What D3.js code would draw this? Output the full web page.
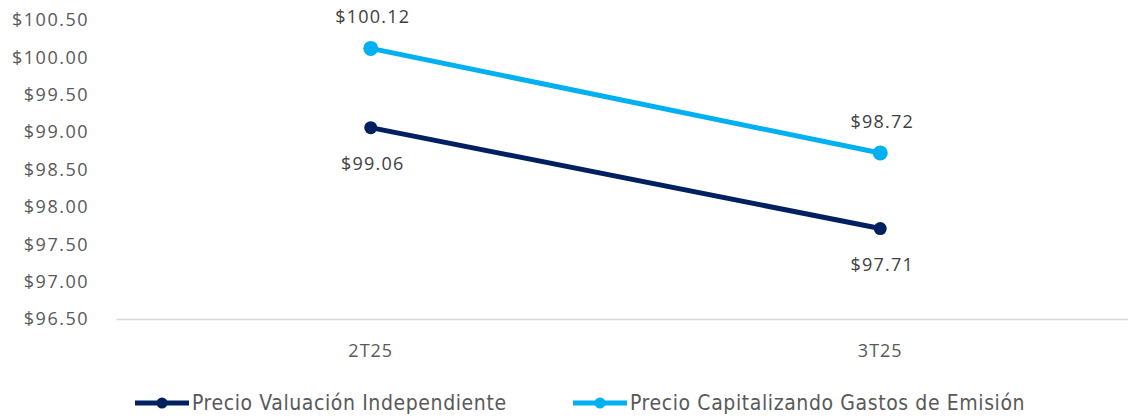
<!DOCTYPE html>
<html>
<head>
<meta charset="utf-8">
<script src="https://cdn.jsdelivr.net/npm/d3@7"></script>
<style>
  html, body { margin: 0; padding: 0; background: #fff; }
  svg { display: block; }
</style>
</head>
<body>
<svg id="chart" width="1128" height="419"></svg>
<script>
// Quarters on the x axis
const categories = ["2T25", "3T25"];
// Price series
const seriesNames = ["Precio Valuación Independiente", "Precio Capitalizando Gastos de Emisión"];
const valuacion = [99.06, 97.71];
const capitalizando = [100.12, 98.72];
// Y axis ticks
const yTicks = [96.5, 97.0, 97.5, 98.0, 98.5, 99.0, 99.5, 100.0, 100.5];

const svg = d3.select("#chart");
const font = "'Open Sans', 'DejaVu Sans', sans-serif";
const fontSize = "18px";

const x = d3.scaleBand().domain(categories).range([116, 1135]);
const y = d3.scaleLinear().domain([96.5, 100.5]).range([319, 20]);
const cx = d => x(d) + x.bandwidth() / 2;

// Y axis labels (no gridlines)
const yAxis = svg.append("g")
  .attr("transform", "translate(116,0)")
  .call(d3.axisLeft(y).tickValues(yTicks).tickSize(0).tickPadding(27)
    .tickFormat(d => "$" + d3.format(".2f")(d)));
yAxis.select(".domain").remove();
yAxis.selectAll("text")
  .attr("fill", "#595959")
  .style("font-family", font)
  .style("font-size", fontSize)
  .style("letter-spacing", "1.5px");

// Baseline axis
const xAxis = svg.append("g")
  .attr("transform", "translate(0,319)")
  .call(d3.axisBottom(x).tickSize(0).tickPadding(25));
xAxis.select(".domain").attr("stroke", "#d9d9d9").attr("stroke-width", 1.5);
xAxis.selectAll("text")
  .attr("fill", "#595959")
  .style("font-family", font)
  .style("font-size", fontSize)
  .style("letter-spacing", "1px");

const series = [
  { name: seriesNames[0], values: valuacion, color: "#002060", r: 6.5, labelPos: "below" },
  { name: seriesNames[1], values: capitalizando, color: "#00B0F0", r: 7.5, labelPos: "above" }
];

const line = d3.line()
  .x((d, i) => cx(categories[i]))
  .y(d => y(d));

series.forEach(s => {
  const g = svg.append("g");
  g.append("path")
    .datum(s.values)
    .attr("d", line)
    .attr("fill", "none")
    .attr("stroke", s.color)
    .attr("stroke-width", 5)
    .attr("stroke-linecap", "round");
  g.selectAll("circle")
    .data(s.values)
    .join("circle")
    .attr("cx", (d, i) => cx(categories[i]))
    .attr("cy", d => y(d))
    .attr("r", s.r)
    .attr("fill", s.color);
  g.selectAll("text")
    .data(s.values)
    .join("text")
    .attr("x", (d, i) => cx(categories[i]) + 2)
    .attr("y", d => s.labelPos === "above" ? y(d) - 25 : y(d) + 42)
    .attr("text-anchor", "middle")
    .attr("fill", "#404040")
    .style("font-family", font)
    .style("font-size", fontSize)
    .style("letter-spacing", "1.2px")
    .text(d => "$" + d3.format(".2f")(d));
});

// Legend
const legendFont = "'DejaVu Sans Condensed', 'DejaVu Sans', sans-serif";
const legendX = [135, 573];
series.forEach((s, i) => {
  const g = svg.append("g").attr("transform", `translate(${legendX[i]},403)`);
  g.append("line")
    .attr("x1", 0).attr("x2", 54).attr("y1", 0).attr("y2", 0)
    .attr("stroke", s.color).attr("stroke-width", 5);
  g.append("circle").attr("cx", 27).attr("cy", 0).attr("r", 5.5).attr("fill", s.color);
  g.append("text")
    .attr("x", 57).attr("y", 0).attr("dy", "0.35em")
    .attr("fill", "#595959")
    .style("font-family", legendFont)
    .style("font-size", "21px")
    .style("letter-spacing", "0.6px")
    .text(s.name);
});
</script>
</body>
</html>
